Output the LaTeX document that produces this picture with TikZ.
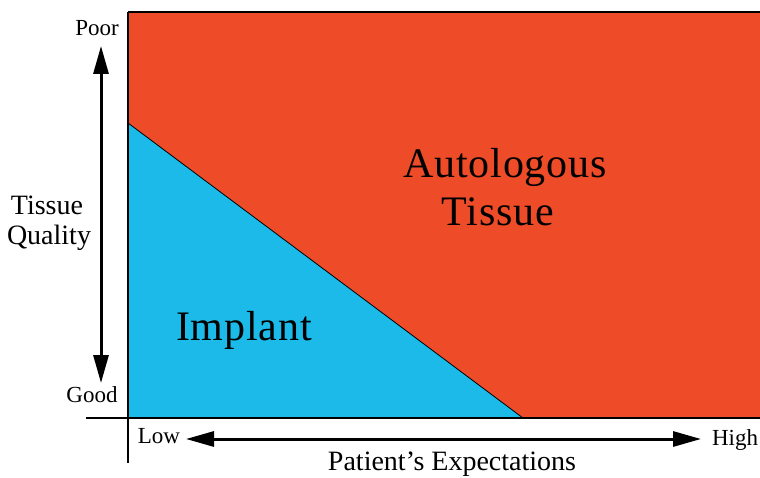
\documentclass[tikz,border=0pt]{standalone}
\usepackage{fontspec}
\setmainfont{Liberation Serif}
\usetikzlibrary{arrows.meta}
\definecolor{autored}{RGB}{238,75,41}
\definecolor{implblue}{RGB}{27,186,232}
\tikzset{
  axisline/.style={line width=2pt, black},
  bigarrow/.style={line width=3pt, {Triangle[length=28pt,width=15pt]}-{Triangle[length=28pt,width=15pt]}},
  ticklab/.style={font=\fontsize{23}{25}\selectfont, inner sep=0pt, anchor=base},
  axislab/.style={font=\fontsize{28}{30}\selectfont, inner sep=0pt, anchor=base},
  regionlab/.style={font=\fontsize{42}{48}\selectfont\addfontfeature{LetterSpace=2}, inner sep=0pt, anchor=base},
}
\begin{document}
\begin{tikzpicture}[x=1pt,y=-1pt]
\useasboundingbox (0,0) rectangle (760,478);
% regions
\fill[autored] (128,12) rectangle (762,418);
\fill[implblue] (128,123) -- (128,418) -- (523,418) -- cycle;
\draw[line width=0.8pt] (128,123) -- (523,418);
\draw[line width=1.5pt] (128,12) -- (762,12);
% axes
\coordinate (vtop) at (128,12);
\coordinate (vbot) at (128,463);
\coordinate (hleft) at (86,418);
\coordinate (hright) at (762,418);
\draw[axisline] (vtop) -- (vbot);
\draw[axisline] (hleft) -- (hright);
% arrows
\coordinate (atop) at (101,46);
\coordinate (abot) at (101,383);
\draw[bigarrow] (atop) -- (abot);
\coordinate (aleft) at (186,439);
\coordinate (aright) at (701,439);
\draw[bigarrow] (aleft) -- (aright);
% labels
\node[ticklab] (poor) at (97,36) {Poor};
\node[ticklab] (good) at (92,402) {Good};
\node[ticklab] (low) at (159,443) {Low};
\node[ticklab] (high) at (735,445) {High};
\node[axislab] (tissue) at (47,215) {Tissue};
\node[axislab] (quality) at (49,245) {Quality};
\node[axislab] (pe) at (452,470) {Patient’s Expectations};
\node[regionlab] (auto) at (505,178) {Autologous};
\node[regionlab] (tis) at (498,226) {Tissue};
\node[regionlab] (impl) at (244,340) {Implant};
\end{tikzpicture}
\end{document}
